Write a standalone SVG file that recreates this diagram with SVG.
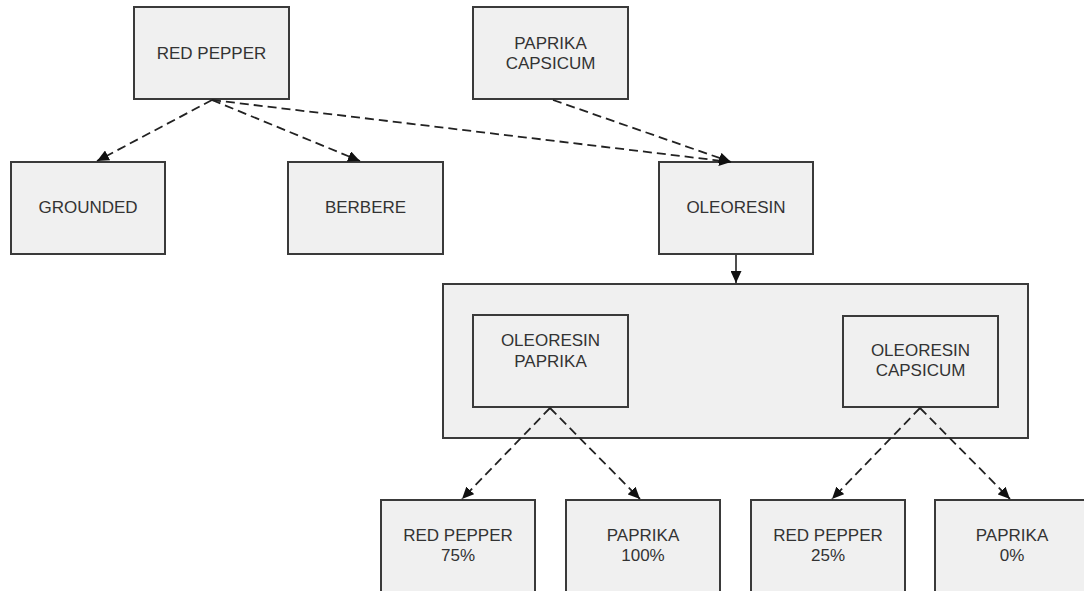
<svg xmlns="http://www.w3.org/2000/svg" width="1084" height="591" viewBox="0 0 1084 591">
<style>
.box{fill:#f0f0f0;stroke:#3a3a3a;stroke-width:2}
.lbl{font-family:"Liberation Sans",Arial,sans-serif;font-size:17px;fill:#333;text-anchor:middle;dominant-baseline:central}
.edge{fill:none;stroke:#222;stroke-width:1.8;stroke-dasharray:9,5}
.solid{fill:none;stroke:#222;stroke-width:1.6}
</style>
<defs>
<marker id="arr" markerUnits="userSpaceOnUse" markerWidth="13" markerHeight="11" refX="12" refY="5.5" orient="auto">
<path d="M0,0 L12,5.5 L0,11 Z" fill="#111" stroke="none"/>
</marker>
</defs>
<rect width="1084" height="591" fill="#fff"/>
<g id="red-pepper"><rect class="box" x="134" y="7" width="155" height="92"/><text class="lbl" x="211.5" y="53">RED PEPPER</text></g>
<g id="paprika-capsicum"><rect class="box" x="473" y="7" width="155" height="92"/><text class="lbl" x="550.5" y="43">PAPRIKA</text><text class="lbl" x="550.5" y="63">CAPSICUM</text></g>
<g id="grounded"><rect class="box" x="11" y="162" width="154" height="92"/><text class="lbl" x="88" y="207">GROUNDED</text></g>
<g id="berbere"><rect class="box" x="288" y="162" width="155" height="92"/><text class="lbl" x="365.5" y="207">BERBERE</text></g>
<g id="oleoresin"><rect class="box" x="659" y="162" width="154" height="92"/><text class="lbl" x="736" y="207">OLEORESIN</text></g>
<g id="container"><rect class="box" x="443" y="284" width="585" height="154"/></g>
<g id="oleoresin-paprika"><rect class="box" x="473" y="315" width="155" height="92"/><text class="lbl" x="550.5" y="340">OLEORESIN</text><text class="lbl" x="550.5" y="361">PAPRIKA</text></g>
<g id="oleoresin-capsicum"><rect class="box" x="843" y="316" width="155" height="91"/><text class="lbl" x="920.5" y="350">OLEORESIN</text><text class="lbl" x="920.5" y="370">CAPSICUM</text></g>
<g id="red-pepper-75"><rect class="box" x="381" y="500" width="154" height="94"/><text class="lbl" x="458" y="535">RED PEPPER</text><text class="lbl" x="458" y="555">75%</text></g>
<g id="paprika-100"><rect class="box" x="566" y="500" width="154" height="94"/><text class="lbl" x="643" y="535">PAPRIKA</text><text class="lbl" x="643" y="555">100%</text></g>
<g id="red-pepper-25"><rect class="box" x="751" y="500" width="154" height="94"/><text class="lbl" x="828" y="535">RED PEPPER</text><text class="lbl" x="828" y="555">25%</text></g>
<g id="paprika-0"><rect class="box" x="935" y="500" width="154" height="94"/><text class="lbl" x="1012" y="535">PAPRIKA</text><text class="lbl" x="1012" y="555">0%</text></g>
<g id="connectors">
<line class="edge" x1="212" y1="100" x2="97" y2="161" marker-end="url(#arr)"/>
<line class="edge" x1="212" y1="100" x2="360" y2="161" marker-end="url(#arr)"/>
<line class="edge" x1="212" y1="100" x2="731" y2="162" marker-end="url(#arr)"/>
<line class="edge" x1="553" y1="100" x2="731" y2="162" marker-end="url(#arr)"/>
<line class="solid" x1="736" y1="255" x2="736" y2="283" marker-end="url(#arr)"/>
<line class="edge" x1="550" y1="408" x2="462" y2="499" marker-end="url(#arr)"/>
<line class="edge" x1="550" y1="408" x2="640" y2="499" marker-end="url(#arr)"/>
<line class="edge" x1="920" y1="408" x2="832" y2="499" marker-end="url(#arr)"/>
<line class="edge" x1="920" y1="408" x2="1010" y2="499" marker-end="url(#arr)"/>
</g>
</svg>
